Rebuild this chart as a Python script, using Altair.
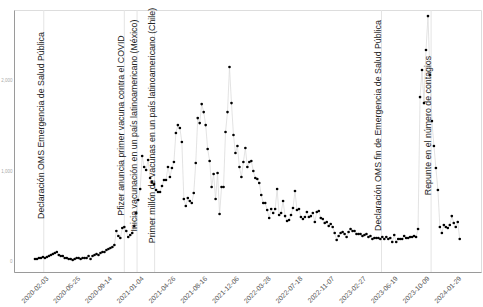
import altair as alt
import pandas as pd

# weekly series (start date + weekly values)
start_date = "2019-12-30"
casos = [
    33, 33, 44, 44, 55, 44, 55, 66, 77, 88, 99, 110, 77, 66, 66, 44, 44, 33, 33, 22,
    33, 44, 44, 33, 44, 44, 44, 66, 33, 66, 77, 88, 77, 99, 110, 110, 132, 143, 154, 165,
    187,
    341, 286, 264, 374, 385, 341, 275, 297, 319, 396,
    538, 681, 802, 1165, 1044, 1011, 1121, 923, 879, 857,
    791, 769, 769, 835, 901, 901, 1044, 934, 1033, 1099,
    1418, 1505, 1473, 1319, 692, 615, 703, 670, 648, 758,
    1088, 1582, 1527, 1736, 1648, 1505, 1242, 1110, 824, 967,
    692, 978, 527, 824, 824, 1429, 1648, 2143, 1747, 1396,
    1198, 1275, 1044, 934, 1099, 1253, 1044, 1099, 1110, 1000,
    923, 912, 868, 736, 648, 648, 571, 484, 582, 538,
    582, 802, 516, 538, 670, 505, 451, 462, 516, 593,
    780, 571, 582, 495, 473, 495, 549, 495, 505, 538,
    440, 549, 560, 484, 473, 429, 440, 396, 418, 385,
    319, 242, 286, 319, 330, 308, 275, 330, 363, 341,
    341, 308, 308, 308, 286, 297, 308, 275, 286, 253,
    264, 264, 264, 253, 275, 253, 275, 253, 264, 220,
    297, 220, 253, 253, 253, 286, 264, 264, 275, 275,
    286, 275, 363, 1813, 2110, 1747, 2330, 2703, 2055, 1549,
    1275, 1033, 791, 385, 319, 407, 385, 374, 407, 505,
    429, 385, 440, 253,
]

ev_fechas = ["2020-01-30", "2020-11-09", "2020-12-24", "2021-02-24", "2023-05-05", "2023-10-27"]
ev_textos = [
    "Declaración OMS Emergencia de Salud Pública",
    "Pfizer anuncia primer vacuna contra el COVID",
    "Inicia vacunación en un país latinoamericano (México)",
    "Primer millón de vacunas en un país latinoamericano (Chile)",
    "Declaración OMS fin de Emergencia de Salud Pública",
    "Repunte en el número de contagios",
]
ev_y = 1500

tick_fechas = ["2020-02-03", "2020-05-25", "2020-09-14", "2021-01-04", "2021-04-26",
               "2021-08-16", "2021-12-06", "2022-03-28", "2022-07-18", "2022-11-07",
               "2023-02-27", "2023-06-19", "2023-10-09", "2024-01-29"]
y_ticks = [0, 1000, 2000]

fechas = pd.date_range(start_date, periods=len(casos), freq="7D")
df = pd.DataFrame({"fecha": fechas, "casos": casos})
ev = pd.DataFrame({"fecha": pd.to_datetime(ev_fechas), "texto": ev_textos, "y": ev_y})


def dt(s):
    t = pd.Timestamp(s)
    return alt.DateTime(year=t.year, month=t.month, date=t.day)


xscale = alt.Scale(domain=[dt("2019-10-17"), dt("2024-04-20")])
yscale = alt.Scale(domain=[-110, 2770], nice=False, zero=False)

xaxis = alt.Axis(values=[dt(s) for s in tick_fechas], format="%Y-%m-%d", labelAngle=-45,
                 labelFontSize=6.8, labelColor="#555555", ticks=False, labelPadding=3,
                 grid=False, title=None, domainColor="#9a9a9a", labelFont="Liberation Sans",
                 labelOverlap=False, labelBound=False, labelFlush=False)
yaxis = alt.Axis(values=y_ticks, labelFontSize=4.5, labelColor="#aaaaaa", ticks=False,
                 labelPadding=2, grid=False, title=None, domainColor="#9a9a9a",
                 labelFont="Liberation Sans", labelOverlap=False)

X = alt.X("fecha:T", scale=xscale, axis=xaxis)

base = alt.Chart(df)
line = base.mark_line(color="#dcdcdc", strokeWidth=0.8).encode(
    x=X,
    y=alt.Y("casos:Q", scale=yscale, axis=yaxis),
)
pts = base.mark_circle(color="#000000", size=7, opacity=1).encode(
    x=X,
    y=alt.Y("casos:Q", scale=yscale, axis=yaxis),
)
rules = alt.Chart(ev).mark_rule(color="#e4e4e4", strokeWidth=1).encode(
    x=X,
)
texts = alt.Chart(ev).mark_text(angle=270, align="center", baseline="alphabetic",
                                fontSize=8.8, font="Liberation Sans", color="#222222").encode(
    x=X,
    y=alt.Y("y:Q", scale=yscale, axis=yaxis),
    text="texto:N",
)

chart = alt.layer(rules, line, pts, texts).properties(
    width=467, height=262,
    padding={"left": 14, "top": 10, "right": 2, "bottom": 35},
    autosize="none",
).configure_view(stroke=None).configure_axis(labelOverlap=False).configure(background="white")

chart.save("out.html", embed_options={"renderer": "svg", "actions": False})
